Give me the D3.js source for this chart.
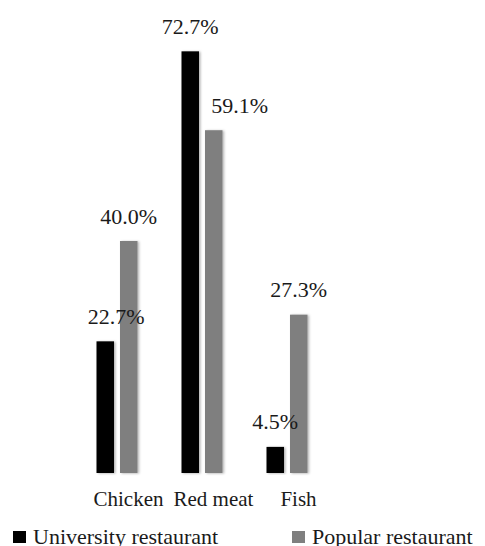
<!DOCTYPE html>
<html><head><meta charset="utf-8"><script src="https://cdn.jsdelivr.net/npm/d3@7"></script></head>
<body style="margin:0">
<svg id="chart" width="485" height="546" font-family="Liberation Serif"></svg>
<script>
// Protein source served, by restaurant type (%)
const categories = ["Chicken", "Red meat", "Fish"];
const seriesNames = ["University restaurant", "Popular restaurant"];
const university = [22.7, 72.7, 4.5];
const popular = [40.0, 59.1, 27.3];
const seriesColors = ["#000000", "#7f7f7f"];

const fontName = "Liberation Serif";
const ink = "#1a1a1a";

const svg = d3.select("#chart");
const baseline = 473;

const x = d3.scaleBand().domain(categories).range([86, 341]).padding(0);
const sub = d3.scaleBand().domain(seriesNames).range([-32, 9]).paddingInner(0.255);
const y = d3.scaleLinear().domain([0, 80]).range([baseline, 9]);

// soft shadow under each bar
const defs = svg.append("defs");
const f = defs.append("filter").attr("id", "shadow")
  .attr("x", "-30%").attr("y", "-5%").attr("width", "160%").attr("height", "110%");
f.append("feDropShadow").attr("dx", 1.5).attr("dy", 0.5)
  .attr("stdDeviation", 1.2).attr("flood-color", "#000").attr("flood-opacity", 0.3);

const rows = categories.flatMap((c, i) => [
  { cat: c, series: seriesNames[0], value: university[i], color: seriesColors[0] },
  { cat: c, series: seriesNames[1], value: popular[i], color: seriesColors[1] }
]);

const center = d => x(d.cat) + x.bandwidth() / 2;

svg.append("g").selectAll("rect").data(rows).join("rect")
  .attr("x", d => center(d) + sub(d.series))
  .attr("y", d => y(d.value))
  .attr("width", sub.bandwidth())
  .attr("height", d => baseline - y(d.value))
  .attr("fill", d => d.color)
  .attr("filter", "url(#shadow)");

// value labels; two are nudged right to clear the neighbouring bar
const nudge = { "Chicken|University restaurant": 11, "Red meat|Popular restaurant": 26 };
svg.append("g").selectAll("text").data(rows).join("text")
  .attr("x", d => center(d) + sub(d.series) + sub.bandwidth() / 2 + (nudge[d.cat + "|" + d.series] || 0))
  .attr("y", d => y(d.value) - 17.5)
  .attr("text-anchor", "middle")
  .attr("fill", ink)
  .style("font-family", () => `"${fontName}", serif`)
  .style("font-size", "22px")
  .text(d => d.value.toFixed(1) + "%");

// category labels under each group
svg.append("g").selectAll("text").data(categories).join("text")
  .attr("x", d => x(d) + x.bandwidth() / 2)
  .attr("y", baseline + 33)
  .attr("text-anchor", "middle")
  .attr("fill", ink)
  .style("font-family", () => `"${fontName}", serif`)
  .style("font-size", "21px")
  .text(d => d);

// legend
const legendX = [13, 292];
const lg = svg.append("g").selectAll("g").data(seriesNames).join("g")
  .attr("transform", (d, i) => `translate(${legendX[i]},531)`);
lg.append("rect").attr("width", 13).attr("height", 12).attr("fill", (d, i) => seriesColors[i]);
lg.append("text").attr("x", 20).attr("y", 13)
  .attr("fill", ink)
  .style("font-family", () => `"${fontName}", serif`)
  .style("font-size", "22px")
  .text(d => d);
</script></body></html>
